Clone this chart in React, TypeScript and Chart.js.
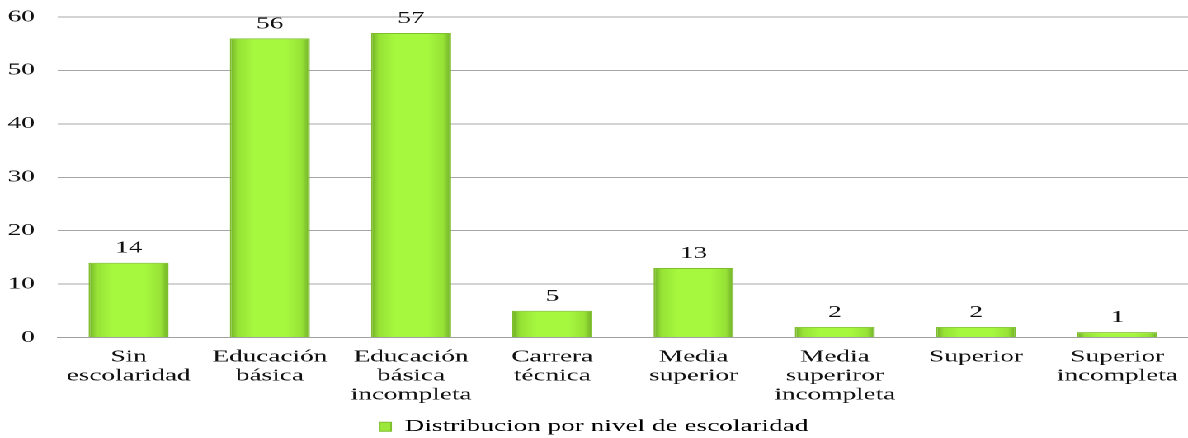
import React, { useEffect, useRef } from "react";
import { Chart, registerables } from "chart.js";

Chart.register(...registerables);

const categories: (string | string[])[] = [
  ["Sin", "escolaridad"],
  ["Educación", "básica"],
  ["Educación", "básica", "incompleta"],
  ["Carrera", "técnica"],
  ["Media", "superior"],
  ["Media", "superiror", "incompleta"],
  ["Superior"],
  ["Superior", "incompleta"],
];
const values: number[] = [14, 56, 57, 5, 13, 2, 2, 1];
const seriesLabel = "Distribucion por nivel de escolaridad";
const yTicks: number[] = [0, 10, 20, 30, 40, 50, 60];

const STRETCH = 1.65;
const W = 1188 / STRETCH;
const H = 438;
const FONT = "'Liberation Serif', serif";
const BAR_PCT = 0.567;

const valueLabels = {
  id: "valueLabels",
  afterDatasetsDraw(chart: any) {
    const ctx = chart.ctx;
    const meta = chart.getDatasetMeta(0);
    ctx.save();
    ctx.font = `16.5px ${FONT}`;
    ctx.fillStyle = "#111";
    ctx.textAlign = "center";
    ctx.textBaseline = "alphabetic";
    meta.data.forEach((bar: any, i: number) => {
      ctx.fillText(String(values[i]), bar.x, bar.y - 10);
    });
    ctx.restore();
  },
};

export default function App() {
  const ref = useRef<HTMLCanvasElement | null>(null);
  useEffect(() => {
    if (!ref.current) return;
    const chart = new Chart(ref.current, {
      type: "bar",
      data: {
        labels: categories,
        datasets: [
          {
            label: seriesLabel,
            data: values,
            backgroundColor: (c: any) => {
              const ch = c.chart;
              const xs = ch.scales && ch.scales.x;
              if (!xs || !ch.chartArea || c.dataIndex === undefined) return "#a6f53f";
              const cx = xs.getPixelForValue(c.dataIndex);
              const half = (xs.width / categories.length) * BAR_PCT / 2;
              const g = ch.ctx.createLinearGradient(cx - half, 0, cx + half, 0);
              g.addColorStop(0, "#6fae28");
              g.addColorStop(0.1, "#97e236");
              g.addColorStop(0.3, "#a6f83f");
              g.addColorStop(0.7, "#a6f83f");
              g.addColorStop(0.9, "#97e236");
              g.addColorStop(1, "#6fae28");
              return g;
            },
            borderColor: "#7fbf2e",
            borderWidth: 1,
            categoryPercentage: 1,
            barPercentage: BAR_PCT,
          },
        ],
      },
      options: {
        responsive: false,
        animation: false,
        devicePixelRatio: 2,
        layout: { padding: { top: 17, right: 0, bottom: -7, left: 0 } },
        scales: {
          x: {
            grid: { display: false, drawTicks: false },
            border: { display: true, color: "#a0a0a0", width: 1 },
            ticks: {
              padding: 10,
              color: "#111",
              maxRotation: 0,
              autoSkip: false,
              font: { family: FONT, size: 16.5, lineHeight: 1.15 },
            },
            afterFit: (s: any) => {
              s.height = 77;
              s.paddingLeft = 0;
              s.paddingRight = 0;
            },
          },
          y: {
            min: 0,
            max: 60,
            afterBuildTicks: (s: any) => {
              s.ticks = yTicks.map((v) => ({ value: v }));
            },
            grid: { color: "#a6a6a6", drawTicks: false, lineWidth: 1 },
            border: { display: false },
            ticks: {
              padding: 14,
              color: "#111",
              font: { family: FONT, size: 16.5 },
            },
            afterFit: (s: any) => {
              s.width = 58 / STRETCH;
              s.paddingTop = 0;
              s.paddingBottom = 0;
            },
          },
        },
        plugins: {
          legend: {
            position: "bottom",
            labels: {
              boxWidth: 7,
              boxHeight: 9,
              padding: 4,
              color: "#111",
              font: { family: FONT, size: 16.5 },
              generateLabels: () => [
                {
                  text: seriesLabel,
                  fillStyle: "#9be83a",
                  strokeStyle: "#7fbf2e",
                  lineWidth: 1,
                  hidden: false,
                  datasetIndex: 0,
                },
              ],
            },
          },
          tooltip: { enabled: false },
        },
      },
      plugins: [valueLabels],
    });
    return () => chart.destroy();
  }, []);

  return (
    <div
      style={{
        position: "absolute",
        left: 0,
        top: 0,
        width: W,
        height: H,
        transform: `scaleX(${STRETCH})`,
        transformOrigin: "0 0",
        background: "#fff",
      }}
    >
      <canvas ref={ref} width={W} height={H} style={{ width: W, height: H, display: "block" }} />
    </div>
  );
}
